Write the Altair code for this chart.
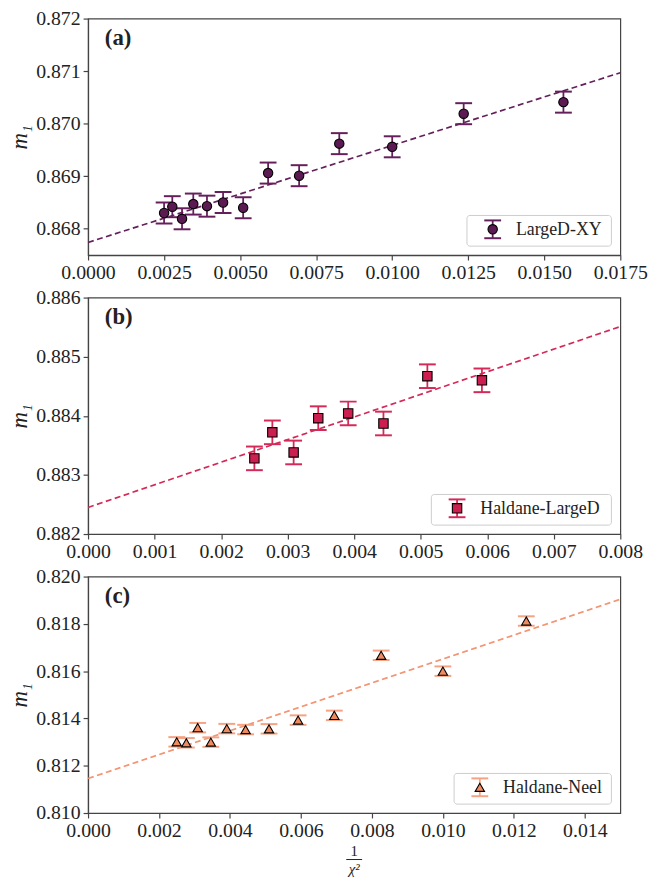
import altair as alt
import pandas as pd

# ---------------- data ----------------
# abscissa: 1/chi^2 for chi = 20, 19, ..., 8
x_a = [0.00250, 0.00277, 0.00309, 0.00346, 0.00391, 0.00444, 0.00510,
       0.00592, 0.00694, 0.00826, 0.01000, 0.01235, 0.01563]
m_a = [0.86830, 0.86842, 0.86819, 0.86847, 0.86843, 0.86850, 0.86840,
       0.86906, 0.86901, 0.86962, 0.86956, 0.87019, 0.87041]
err_a = [0.0002, 0.0002, 0.0002, 0.0002, 0.0002, 0.0002, 0.0002,
         0.0002, 0.0002, 0.0002, 0.0002, 0.0002, 0.0002]
fit_x_a = [0.0, 0.0175]
fit_m_a = [0.86774, 0.87097]

x_b = [0.00250, 0.00277, 0.00309, 0.00346, 0.00391, 0.00444, 0.00510, 0.00592]
m_b = [0.88328, 0.88372, 0.88338, 0.88396, 0.88404, 0.88387, 0.88467, 0.88460]
err_b = [0.0002, 0.0002, 0.0002, 0.0002, 0.0002, 0.0002, 0.0002, 0.0002]
fit_x_b = [0.0, 0.008]
fit_m_b = [0.88245, 0.88551]

x_c = [0.00250, 0.00277, 0.00309, 0.00346, 0.00391, 0.00444, 0.00510,
       0.00592, 0.00694, 0.00826, 0.01000, 0.01235]
m_c = [0.81301, 0.81297, 0.81361, 0.81300, 0.81357, 0.81353, 0.81356,
       0.81393, 0.81413, 0.81667, 0.81600, 0.81812]
err_c = [0.0002, 0.0002, 0.0002, 0.0002, 0.0002, 0.0002, 0.0002,
         0.0002, 0.0002, 0.0002, 0.0002, 0.0002]
fit_x_c = [0.0, 0.015]
fit_m_c = [0.81146, 0.81904]

xticks_a = [0.0, 0.0025, 0.005, 0.0075, 0.01, 0.0125, 0.015, 0.0175]
yticks_a = [0.868, 0.869, 0.870, 0.871, 0.872]
xticks_b = [0.0, 0.001, 0.002, 0.003, 0.004, 0.005, 0.006, 0.007, 0.008]
yticks_b = [0.882, 0.883, 0.884, 0.885, 0.886]
xticks_c = [0.0, 0.002, 0.004, 0.006, 0.008, 0.010, 0.012, 0.014]
yticks_c = [0.810, 0.812, 0.814, 0.816, 0.818, 0.820]

W, H = 538, 239
SERIF = "Liberation Serif"
INK = "#222222"


def panel(xs, ms, errs, fx, fm, color, bar_color, line_color, shape,
          xdom, xticks, xfmt, ydom, yticks, yfmt, tag, name, box_left,
          fraction_title=False):
    df = pd.DataFrame({"x": xs, "m": ms, "e": errs})
    df["lo"] = df["m"] - df["e"]
    df["hi"] = df["m"] + df["e"]
    fit = pd.DataFrame({"x": fx, "m": fm})

    xsc = alt.Scale(domain=xdom, nice=False, zero=False)
    ysc = alt.Scale(domain=ydom, nice=False, zero=False)
    xax = alt.Axis(values=xticks, format=xfmt, title=None, labelFlush=False,
                   labelOverlap=False)
    yax = alt.Axis(values=yticks, format=yfmt, title="m₁")

    def X():
        return alt.X("x:Q", scale=xsc, axis=xax)

    def Y(field):
        return alt.Y(f"{field}:Q", scale=ysc, axis=yax, title="m₁")

    line = alt.Chart(fit).mark_line(
        strokeDash=[6, 3.5], strokeWidth=1.7, color=line_color
    ).encode(x=X(), y=Y("m"))

    base = alt.Chart(df)
    stems = base.mark_rule(color=bar_color, strokeWidth=1.8).encode(
        x=X(), y=Y("lo"), y2="hi:Q")
    cap_lo = base.mark_tick(orient="horizontal", size=17, thickness=2,
                            color=bar_color, opacity=1).encode(x=X(), y=Y("lo"))
    cap_hi = base.mark_tick(orient="horizontal", size=17, thickness=2,
                            color=bar_color, opacity=1).encode(x=X(), y=Y("hi"))
    pts = base.mark_point(shape=shape, filled=True, size=90, fill=color,
                          stroke="black", strokeWidth=1.1, fillOpacity=1,
                          strokeOpacity=1).encode(x=X(), y=Y("m"))

    one = pd.DataFrame({"k": [0]})
    label = alt.Chart(one).mark_text(
        text=tag, font=SERIF, fontSize=23, fontWeight="bold", color=INK,
        align="left", baseline="middle"
    ).encode(x=alt.value(17), y=alt.value(20))

    # legend box in the lower-right corner
    sx = box_left + 26
    sy = 213
    box = alt.Chart(one).mark_rect(
        fill="white", fillOpacity=0.8, stroke="#cccccc", strokeWidth=1,
        cornerRadius=3
    ).encode(x=alt.value(box_left), x2=alt.value(W - 9),
             y=alt.value(199), y2=alt.value(230))
    leg_stem = alt.Chart(one).mark_rule(color=bar_color, strokeWidth=1.8).encode(
        x=alt.value(sx), y=alt.value(sy - 9), y2=alt.value(sy + 9))
    leg_cap1 = alt.Chart(one).mark_rule(color=bar_color, strokeWidth=2).encode(
        x=alt.value(sx - 8.5), x2=alt.value(sx + 8.5), y=alt.value(sy - 9))
    leg_cap2 = alt.Chart(one).mark_rule(color=bar_color, strokeWidth=2).encode(
        x=alt.value(sx - 8.5), x2=alt.value(sx + 8.5), y=alt.value(sy + 9))
    leg_pt = alt.Chart(one).mark_point(
        shape=shape, filled=True, size=90, fill=color, stroke="black",
        strokeWidth=1.1, fillOpacity=1, strokeOpacity=1
    ).encode(x=alt.value(sx), y=alt.value(sy))
    leg_txt = alt.Chart(one).mark_text(
        text=name, font=SERIF, fontSize=18, color=INK, align="left",
        baseline="middle"
    ).encode(x=alt.value(box_left + 49.5), y=alt.value(sy + 1))

    layers = [line, stems, cap_lo, cap_hi, pts, label,
              box, leg_stem, leg_cap1, leg_cap2, leg_pt, leg_txt]

    if fraction_title:
        cx = W / 2
        num = alt.Chart(one).mark_text(
            text="1", font=SERIF, fontSize=15, color=INK, align="center",
            baseline="middle").encode(x=alt.value(cx), y=alt.value(H + 38))
        bar = alt.Chart(one).mark_rule(color=INK, strokeWidth=1).encode(
            x=alt.value(cx - 8), x2=alt.value(cx + 8), y=alt.value(H + 47))
        den = alt.Chart(one).mark_text(
            text="χ²", font=SERIF, fontSize=15, fontStyle="italic", color=INK,
            align="center", baseline="middle").encode(
            x=alt.value(cx), y=alt.value(H + 57))
        layers += [num, bar, den]

    return alt.layer(*layers).properties(width=W, height=H)


pa = panel(x_a, m_a, err_a, fit_x_a, fit_m_a, "#5c1a52", "#65205b", "#65205b",
           "circle", [0, 0.0175], xticks_a, ".4f", [0.8675, 0.872], yticks_a,
           ".3f", "(a)", "LargeD-XY", 383)
pb = panel(x_b, m_b, err_b, fit_x_b, fit_m_b, "#cc1f4f", "#d42a58", "#d42a58",
           "square", [0, 0.008], xticks_b, ".3f", [0.882, 0.886], yticks_b,
           ".3f", "(b)", "Haldane-LargeD", 347)
pc = panel(x_c, m_c, err_c, fit_x_c, fit_m_c, "#f08a5f", "#f6a283", "#f39473",
           "triangle-up", [0, 0.015], xticks_c, ".3f", [0.810, 0.820], yticks_c,
           ".3f", "(c)", "Haldane-Neel", 370, fraction_title=True)

chart = alt.vconcat(pa, pb, pc, spacing=43, bounds="flush").properties(
    padding={"left": 8, "top": 3, "right": 0, "bottom": 5}
).configure(
    background="white"
).configure_view(
    stroke="#444444", strokeWidth=1.2
).configure_axis(
    grid=False,
    domainColor="#444444", domainWidth=1.2,
    tickColor="#444444", tickWidth=1.2, tickSize=5,
    labelFont=SERIF, labelFontSize=20, labelColor=INK, labelPadding=3,
    titleFont=SERIF, titleFontSize=23, titleFontStyle="italic",
    titleFontWeight="normal", titleColor=INK, titlePadding=4,
)

chart.save("out.html", embed_options={"renderer": "svg", "actions": False})
